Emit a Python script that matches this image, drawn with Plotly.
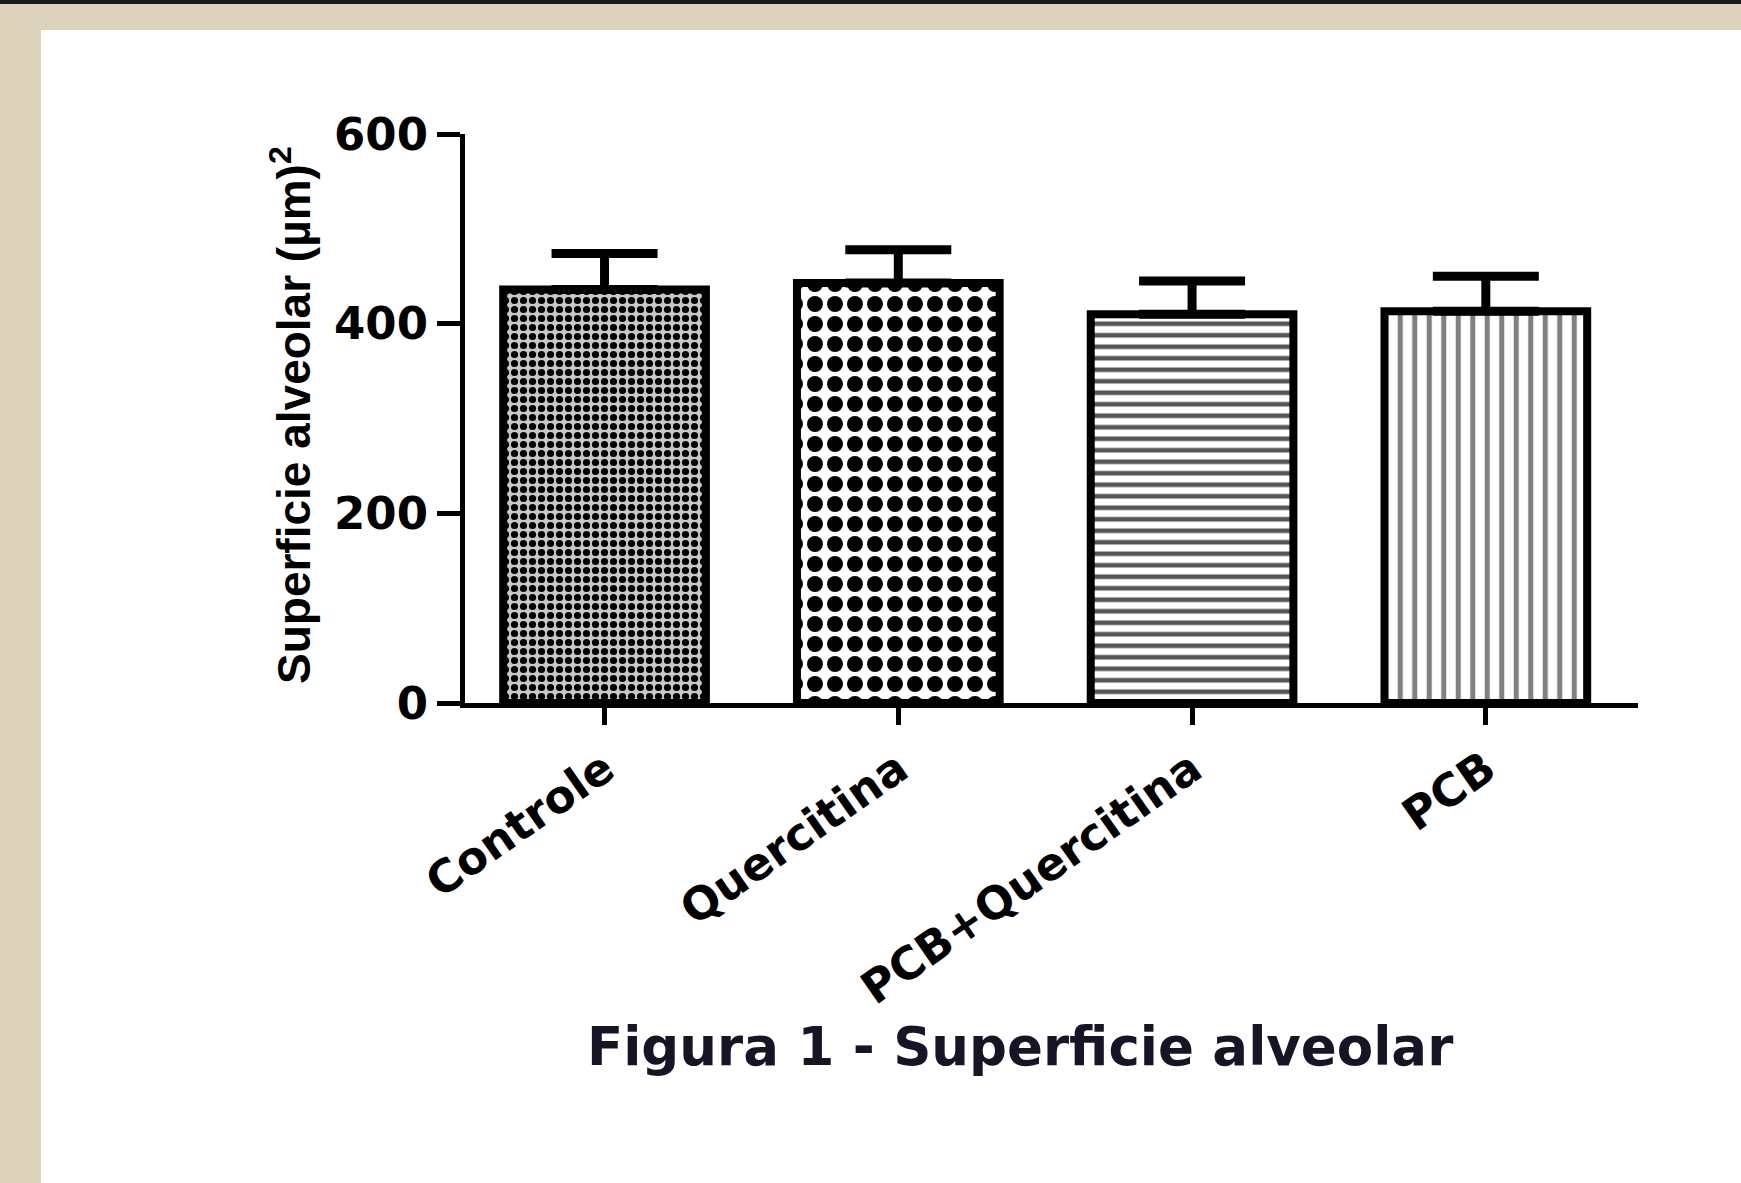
import plotly.graph_objects as go

# ---- data ----
categories = ["Controle", "Quercitina", "PCB+Quercitina", "PCB"]
means = [436, 443, 410, 413]
sem_up = [38, 35, 35, 37]
y_ticks = [0, 200, 400, 600]
y_title = "Superficie alveolar (µm)<sup>2</sup>"
caption = "Figura 1 - Superficie alveolar"

# ---- page geometry (px) ----
W, H = 1741, 1183
L, R, T, B = 465, 103, 134, 480
plot_w = W - L - R
plot_h = H - T - B

def px_x(x):
    return (x - L) / plot_w

def px_y(y):
    return (H - B - y) / plot_h

patterns = [
    dict(shape=".", size=9, solidity=0.5, fgcolor="#000000", bgcolor="#c8c8c8", fgopacity=1),
    dict(shape=".", size=20, solidity=0.5, fgcolor="#000000", bgcolor="#ffffff", fgopacity=1),
    dict(shape="-", size=11.5, solidity=0.4, fgcolor="#555555", bgcolor="#ffffff", fgopacity=1),
    dict(shape="|", size=14.5, solidity=0.35, fgcolor="#808080", bgcolor="#ffffff", fgopacity=1),
]

fig = go.Figure()
for i, cat in enumerate(categories):
    fig.add_trace(go.Bar(
        x=[i], y=[means[i]], width=0.69,
        marker=dict(color="white", pattern=patterns[i],
                    line=dict(color="black", width=8)),
        error_y=dict(type="data", symmetric=False, array=[sem_up[i]],
                     arrayminus=[0], color="black", thickness=9, width=53),
        showlegend=False, name=cat,
    ))

tick_font = dict(family="DejaVu Sans", size=45, color="black", weight="bold")

fig.update_layout(
    width=W, height=H,
    margin=dict(l=L, r=R, t=T, b=B),
    paper_bgcolor="white", plot_bgcolor="white",
    xaxis=dict(
        range=[-0.475, 3.518], tickmode="array",
        tickvals=list(range(len(categories))), ticktext=categories,
        tickangle=-35, tickfont=tick_font,
        showline=True, linecolor="black", linewidth=5,
        ticks="outside", ticklen=17, tickwidth=5, tickcolor="black",
        showgrid=False, zeroline=False,
    ),
    yaxis=dict(
        range=[0, 600], tickmode="array", tickvals=y_ticks,
        tickfont=tick_font,
        showline=True, linecolor="black", linewidth=5,
        ticks="outside", ticklen=23, tickwidth=5, tickcolor="black",
        showgrid=False, zeroline=False,
    ),
    shapes=[
        dict(type="rect", xref="paper", yref="paper", layer="below",
             x0=px_x(-20), x1=px_x(41), y0=px_y(H + 20), y1=px_y(-20),
             fillcolor="#ddd3bc", line=dict(width=0)),
        dict(type="rect", xref="paper", yref="paper", layer="below",
             x0=px_x(-20), x1=px_x(W + 20), y0=px_y(30), y1=px_y(-20),
             fillcolor="#ddd3bc", line=dict(width=0)),
        dict(type="rect", xref="paper", yref="paper", layer="below",
             x0=px_x(-20), x1=px_x(W + 20), y0=px_y(4), y1=px_y(-20),
             fillcolor="#1a1a1a", line=dict(width=0)),
    ],
    annotations=[
        dict(text=y_title, textangle=-90, xref="paper", yref="paper",
             x=px_x(291), y=px_y(415), xanchor="center", yanchor="middle",
             showarrow=False,
             font=dict(family="Liberation Sans", size=46, color="black", weight="bold")),
        dict(text=caption, xref="paper", yref="paper",
             x=px_x(1020), y=px_y(1046), xanchor="center", yanchor="middle",
             showarrow=False,
             font=dict(family="DejaVu Sans", size=53, color="#151525", weight="bold")),
    ],
)

fig.write_html("out.html", config={"displayModeBar": False},
               post_script="document.body.style.margin='0';")
